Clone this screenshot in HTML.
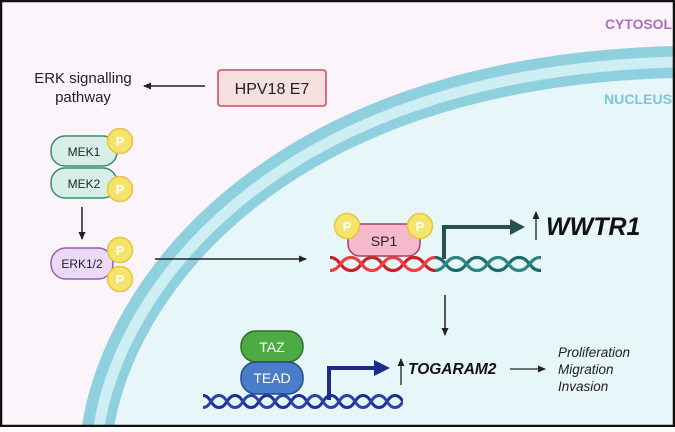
<!DOCTYPE html>
<html><head><meta charset="utf-8"><style>
html,body{margin:0;padding:0;}
body{width:675px;height:427px;overflow:hidden;font-family:"Liberation Sans",sans-serif;}
</style></head><body>
<svg width="675" height="427" viewBox="0 0 675 427" xmlns="http://www.w3.org/2000/svg" font-family="Liberation Sans, sans-serif">
<defs>
<pattern id="red" width="42" height="18" patternUnits="userSpaceOnUse" x="330" y="255">
<path d="M0,2.5 C10.5,2.5 10.5,15.5 21,15.5 C31.5,15.5 31.5,2.5 42,2.5" fill="none" stroke="#c92424" stroke-width="3.2"/>
<path d="M0,15.5 C10.5,15.5 10.5,2.5 21,2.5 C31.5,2.5 31.5,15.5 42,15.5" fill="none" stroke="#ee4040" stroke-width="3.2"/>
</pattern>
<pattern id="teal" width="42" height="18" patternUnits="userSpaceOnUse" x="435" y="255">
<path d="M0,2.5 C10.5,2.5 10.5,15.5 21,15.5 C31.5,15.5 31.5,2.5 42,2.5" fill="none" stroke="#1f6a6a" stroke-width="3.2"/>
<path d="M0,15.5 C10.5,15.5 10.5,2.5 21,2.5 C31.5,2.5 31.5,15.5 42,15.5" fill="none" stroke="#2f8585" stroke-width="3.2"/>
</pattern>
<pattern id="blue" width="32" height="17" patternUnits="userSpaceOnUse" x="203" y="393">
<path d="M0,2.5 C8,2.5 8,14.5 16,14.5 C24,14.5 24,2.5 32,2.5" fill="none" stroke="#1f2f95" stroke-width="3"/>
<path d="M0,14.5 C8,14.5 8,2.5 16,2.5 C24,2.5 24,14.5 32,14.5" fill="none" stroke="#2c42ad" stroke-width="3"/>
</pattern>
<marker id="ah" markerWidth="8" markerHeight="8" refX="7" refY="4" orient="auto" markerUnits="userSpaceOnUse">
<path d="M0,0.5 L8,4 L0,7.5 z" fill="#222"/>
</marker>
</defs>
<rect x="0" y="0" width="675" height="427" fill="#fbf4fa"/>
<path d="M98,427 C117,300 262,72 675,62 L675,427 Z" fill="#e7f6f8"/>
<path d="M98,427 C117,300 262,72 675,62" fill="none" stroke="#8fd0de" stroke-width="32"/>
<path d="M99,427 C118,300 263,73 675,62" fill="none" stroke="#cdeef3" stroke-width="11"/>
<rect x="1" y="1" width="673" height="425" fill="none" stroke="#111" stroke-width="2.5"/>

<text x="605" y="29" font-size="14" font-weight="bold" fill="#ad6ec0" textLength="67" lengthAdjust="spacingAndGlyphs">CYTOSOL</text>
<text x="604" y="104" font-size="14" font-weight="bold" fill="#7cc6d6" textLength="68" lengthAdjust="spacingAndGlyphs">NUCLEUS</text>

<text x="83" y="83" text-anchor="middle" font-size="15" fill="#222">ERK signalling</text>
<text x="83" y="102" text-anchor="middle" font-size="15" fill="#222">pathway</text>
<line x1="205" y1="86" x2="144" y2="86" stroke="#222" stroke-width="1.5" marker-end="url(#ah)"/>
<rect x="218" y="70" width="108" height="36" rx="3" fill="#f6dfdf" stroke="#c44a5c" stroke-width="1.5"/>
<text x="272" y="94" text-anchor="middle" font-size="16" fill="#222">HPV18 E7</text>

<rect x="51" y="136" width="66" height="30" rx="14" fill="#d6f0e7" stroke="#3d8a6e" stroke-width="1.5"/>
<text x="84" y="156" text-anchor="middle" font-size="12" fill="#222">MEK1</text>
<rect x="51" y="168" width="66" height="30" rx="14" fill="#d6f0e7" stroke="#3d8a6e" stroke-width="1.5"/>
<text x="84" y="188" text-anchor="middle" font-size="12" fill="#222">MEK2</text>
<g font-size="13" fill="#fff" text-anchor="middle" font-weight="bold">
<circle cx="120" cy="141" r="12.5" fill="#f3e46c" stroke="#e8c440" stroke-width="1.5"/><text x="120" y="146">P</text>
<circle cx="120" cy="189" r="12.5" fill="#f3e46c" stroke="#e8c440" stroke-width="1.5"/><text x="120" y="194">P</text>
</g>
<line x1="82" y1="207" x2="82" y2="239" stroke="#222" stroke-width="1.5" marker-end="url(#ah)"/>
<rect x="51" y="248" width="62" height="31" rx="15" fill="#ebdaf6" stroke="#9a5bb6" stroke-width="1.5"/>
<text x="82" y="268" text-anchor="middle" font-size="12" fill="#222">ERK1/2</text>
<g font-size="13" fill="#fff" text-anchor="middle" font-weight="bold">
<circle cx="120" cy="250" r="12.5" fill="#f3e46c" stroke="#e8c440" stroke-width="1.5"/><text x="120" y="255">P</text>
<circle cx="120" cy="279" r="12.5" fill="#f3e46c" stroke="#e8c440" stroke-width="1.5"/><text x="120" y="284">P</text>
</g>
<line x1="155" y1="259" x2="306" y2="259" stroke="#222" stroke-width="1.5" marker-end="url(#ah)"/>

<rect x="330" y="255" width="105" height="18" fill="url(#red)"/>
<rect x="435" y="255" width="106" height="18" fill="url(#teal)"/>
<rect x="348" y="224" width="72" height="32" rx="12" fill="#f4b9cd" stroke="#a3405f" stroke-width="1.5"/>
<text x="384" y="246" text-anchor="middle" font-size="14" fill="#222">SP1</text>
<g font-size="13" fill="#fff" text-anchor="middle" font-weight="bold">
<circle cx="347" cy="226" r="12.5" fill="#f3e46c" stroke="#e8c440" stroke-width="1.5"/><text x="347" y="231">P</text>
<circle cx="420" cy="226" r="12.5" fill="#f3e46c" stroke="#e8c440" stroke-width="1.5"/><text x="420" y="231">P</text>
</g>
<path d="M444,259 L444,227 L512,227" fill="none" stroke="#27514d" stroke-width="4"/>
<path d="M510,219 L525,227 L510,235 z" fill="#27514d"/>
<line x1="536" y1="240" x2="536" y2="212" stroke="#222" stroke-width="1.3" marker-end="url(#ah)"/>
<text x="546" y="235" font-size="25" font-weight="bold" font-style="italic" fill="#111">WWTR1</text>

<line x1="445" y1="295" x2="445" y2="335" stroke="#222" stroke-width="1.5" marker-end="url(#ah)"/>

<rect x="203" y="393" width="200" height="17" fill="url(#blue)"/>
<rect x="241" y="331" width="62" height="31" rx="15" fill="#4cab43" stroke="#2d6e2a" stroke-width="1.5"/>
<text x="272" y="352" text-anchor="middle" font-size="14" fill="#fff">TAZ</text>
<rect x="241" y="362" width="62" height="32" rx="15" fill="#4a7dc8" stroke="#244a8a" stroke-width="1.5"/>
<text x="272" y="383" text-anchor="middle" font-size="14" fill="#fff">TEAD</text>
<path d="M329,400 L329,368 L376,368" fill="none" stroke="#1b2a8c" stroke-width="4"/>
<path d="M374,360 L390,368 L374,376 z" fill="#1b2a8c"/>
<line x1="401" y1="385" x2="401" y2="359" stroke="#222" stroke-width="1.3" marker-end="url(#ah)"/>
<text x="408" y="374" font-size="15.5" font-weight="bold" font-style="italic" fill="#111">TOGARAM2</text>
<line x1="510" y1="369" x2="545" y2="369" stroke="#222" stroke-width="1.3" marker-end="url(#ah)"/>
<g font-size="13.5" font-style="italic" fill="#222">
<text x="558" y="357">Proliferation</text>
<text x="558" y="374">Migration</text>
<text x="558" y="391">Invasion</text>
</g>
</svg>
</body></html>
